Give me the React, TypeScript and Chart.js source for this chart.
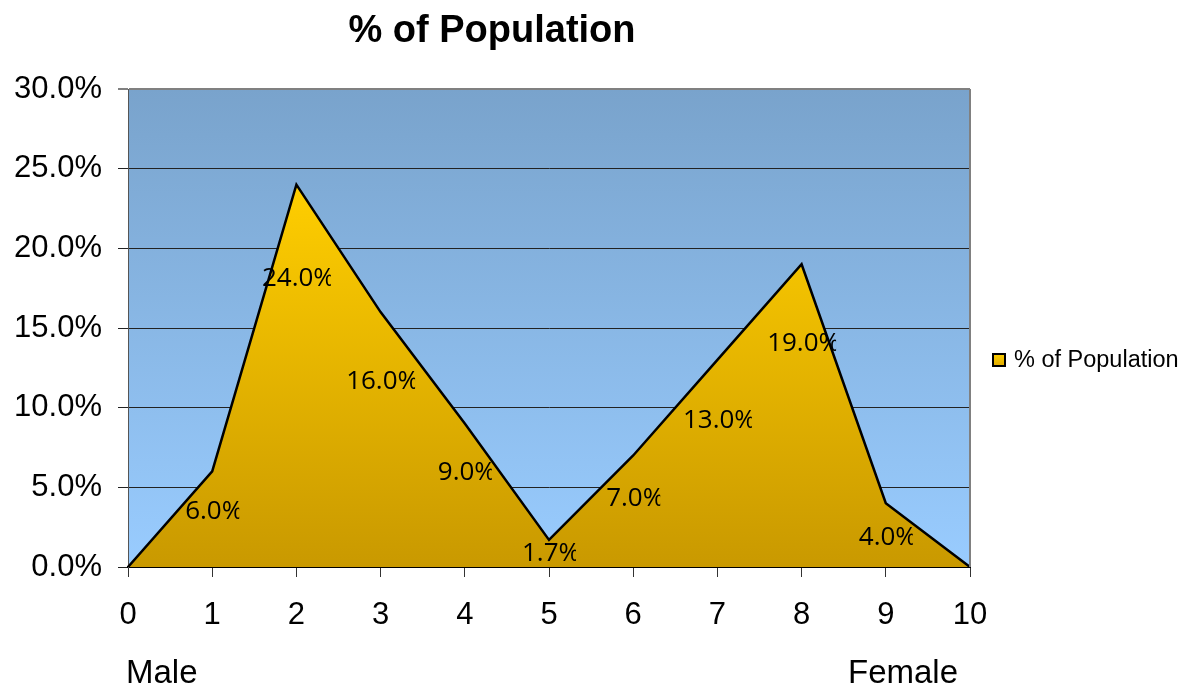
import React, { useEffect, useRef } from 'react';
import { Chart, registerables } from 'chart.js';

Chart.register(...registerables);

const categories = ['0', '1', '2', '3', '4', '5', '6', '7', '8', '9', '10'];
const seriesName = '% of Population';
const values = [0, 6, 24, 16, 9, 1.7, 7, 13, 19, 4, 0];
const yMin = 0;
const yMax = 30;
const yStep = 5;
const genderLabels = ['Male', 'Female'];

const AXIS_FONT = '"Liberation Sans", Arial, sans-serif';
const LABEL_FONT = '"Open Sans", "Noto Sans", sans-serif';

const decorPlugin = {
  id: 'decor',
  beforeDraw(chart: any) {
    const { ctx, chartArea: a } = chart;
    const g = ctx.createLinearGradient(0, a.top, 0, a.bottom);
    g.addColorStop(0, '#79A3CC');
    g.addColorStop(1, '#99CCFF');
    ctx.save();
    ctx.fillStyle = g;
    ctx.fillRect(a.left, a.top, a.right - a.left, a.bottom - a.top);
    ctx.restore();
  },
  afterDatasetsDraw(chart: any) {
    const { ctx, chartArea: a } = chart;
    ctx.save();
    ctx.strokeStyle = '#808080';
    ctx.lineWidth = 2;
    ctx.beginPath();
    ctx.moveTo(a.right, a.top);
    ctx.lineTo(a.right, a.bottom);
    ctx.stroke();
    ctx.restore();

    const meta = chart.getDatasetMeta(0);
    ctx.save();
    ctx.font = '26px ' + LABEL_FONT;
    ctx.fillStyle = '#000';
    ctx.textBaseline = 'middle';
    ctx.textAlign = 'left';
    values.forEach((v, i) => {
      if (v <= 0) return;
      const pt = meta.data[i];
      const text = v.toFixed(1) + '%';
      let cy = pt.y + 22 + v * 3;
      if (cy > a.bottom - 13) cy = a.bottom - 13;
      const boxW = ctx.measureText(text).width - 4;
      const left = pt.x - boxW / 2;
      ctx.save();
      ctx.beginPath();
      ctx.rect(left - 2, cy - 20, boxW + 2, 40);
      ctx.clip();
      ctx.fillText(text, left, cy);
      ctx.restore();
    });
    ctx.restore();
  },
  afterDraw(chart: any) {
    const { ctx } = chart;
    ctx.save();
    ctx.font = 'bold 38px ' + AXIS_FONT;
    ctx.fillStyle = '#000';
    ctx.textAlign = 'center';
    ctx.textBaseline = 'alphabetic';
    ctx.fillText(seriesName, 492, 42);

    const lg = ctx.createLinearGradient(0, 353, 0, 366);
    lg.addColorStop(0, '#FFD200');
    lg.addColorStop(1, '#E0AA00');
    ctx.fillStyle = lg;
    ctx.fillRect(993, 354, 12, 12);
    ctx.strokeStyle = '#000';
    ctx.lineWidth = 2;
    ctx.strokeRect(993, 354, 12, 12);
    ctx.fillStyle = '#000';
    ctx.font = '23.5px ' + AXIS_FONT;
    ctx.textAlign = 'left';
    ctx.textBaseline = 'middle';
    ctx.fillText(seriesName, 1014, 361);

    ctx.font = '33px ' + AXIS_FONT;
    ctx.textBaseline = 'alphabetic';
    ctx.fillText(genderLabels[0], 126, 683);
    ctx.fillText(genderLabels[1], 848, 683);
    ctx.restore();
  },
};

export default function App() {
  const ref = useRef<HTMLCanvasElement | null>(null);

  useEffect(() => {
    if (!ref.current) return;
    const chart = new Chart(ref.current, {
      type: 'line',
      data: {
        labels: categories,
        datasets: [
          {
            label: seriesName,
            data: values,
            borderColor: '#000',
            borderWidth: 2.5,
            pointRadius: 0,
            tension: 0,
            fill: 'origin',
            backgroundColor: (c: any) => {
              const ch = c.chart;
              const a = ch.chartArea;
              if (!a || !ch.scales.y) return '#FFCC00';
              const top = ch.scales.y.getPixelForValue(24);
              const g = ch.ctx.createLinearGradient(0, top, 0, a.bottom);
              g.addColorStop(0, '#FFCE00');
              g.addColorStop(1, '#C99900');
              return g;
            },
          },
        ],
      },
      options: {
        animation: false,
        responsive: false,
        layout: { padding: { top: 89, right: 215, left: 0, bottom: 0 } },
        plugins: {
          legend: { display: false },
          title: { display: false },
          tooltip: { enabled: false },
        },
        scales: {
          x: {
            type: 'category',
            offset: false,
            afterFit: (s: any) => {
              s.height = 120;
            },
            grid: {
              drawOnChartArea: false,
              drawTicks: true,
              tickLength: 10,
              color: '#333',
            },
            border: { color: '#000', width: 2 },
            ticks: {
              font: { family: AXIS_FONT, size: 31 },
              color: '#000',
              padding: 20,
              maxRotation: 0,
              autoSkip: false,
            },
          },
          y: {
            min: yMin,
            max: yMax,
            afterFit: (s: any) => {
              s.width = 128;
            },
            grid: {
              color: (c: any) => (c.tick && c.tick.value === yMax ? '#808080' : '#222'),
              lineWidth: (c: any) => (c.tick && c.tick.value === yMax ? 2 : 1),
              tickLength: 10,
            },
            border: { color: '#555', width: 1 },
            ticks: {
              stepSize: yStep,
              font: { family: AXIS_FONT, size: 31 },
              color: '#000',
              padding: 16,
              callback: (v: any) => Number(v).toFixed(1) + '%',
            },
          },
        },
      },
      plugins: [decorPlugin],
    });
    return () => chart.destroy();
  }, []);

  return (
    <div style={{ position: 'fixed', left: 0, top: 0, width: 1185, height: 687 }}>
      <canvas ref={ref} width={1185} height={687} style={{ display: 'block' }} />
    </div>
  );
}
